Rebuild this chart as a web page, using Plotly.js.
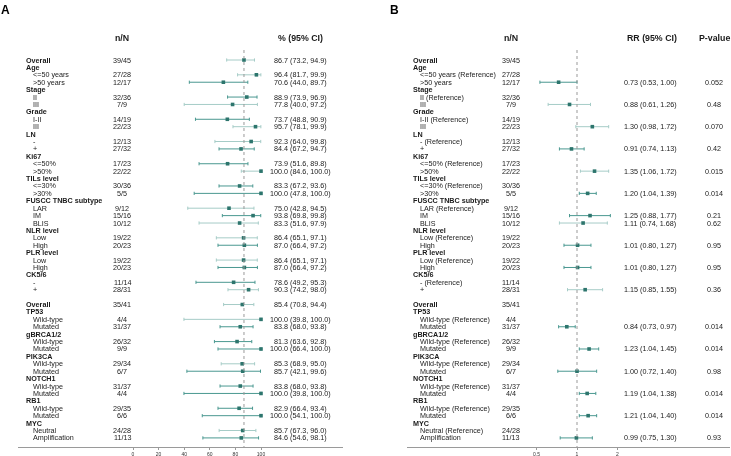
<!DOCTYPE html>
<html><head><meta charset="utf-8">
<script src="https://cdn.plot.ly/plotly-3.0.1.min.js"></script>
<style>html,body{margin:0;padding:0;background:#fff}#chart{width:731px;height:456px;will-change:transform}</style>
</head><body><div id="chart"></div>
<script>
// ---------- DATA ----------
const labelsA = ['Overall','Age','<=50 years','>50 years','Stage','II','III','Grade','I-II','III','LN','-','+','Ki67','<=50%','>50%','TILs level','<=30%','>30%','FUSCC TNBC subtype','LAR','IM','BLIS','NLR level','Low','High','PLR level','Low','High','CK5/6','-','+','','Overall','TP53','Wild-type','Mutated','gBRCA1/2','Wild-type','Mutated','PIK3CA','Wild-type','Mutated','NOTCH1','Wild-type','Mutated','RB1','Wild-type','Mutated','MYC','Neutral','Amplification'];
const labelsB = ['Overall','Age','<=50 years (Reference)','>50 years','Stage','II (Reference)','III','Grade','I-II (Reference)','III','LN','- (Reference)','+','Ki67','<=50% (Reference)','>50%','TILs level','<=30% (Reference)','>30%','FUSCC TNBC subtype','LAR (Reference)','IM','BLIS','NLR level','Low (Reference)','High','PLR level','Low (Reference)','High','CK5/6','- (Reference)','+','','Overall','TP53','Wild-type (Reference)','Mutated','gBRCA1/2','Wild-type (Reference)','Mutated','PIK3CA','Wild-type (Reference)','Mutated','NOTCH1','Wild-type (Reference)','Mutated','RB1','Wild-type (Reference)','Mutated','MYC','Neutral (Reference)','Amplification'];
// 0 = bold heading, 1 = indented sub-item, 2 = blank
const levels = [0,0,1,1,0,1,1,0,1,1,0,1,1,0,1,1,0,1,1,0,1,1,1,0,1,1,0,1,1,0,1,1,2,0,0,1,1,0,1,1,0,1,1,0,1,1,0,1,1,0,1,1];
const nN = ['39/45',null,'27/28','12/17',null,'32/36','7/9',null,'14/19','22/23',null,'12/13','27/32',null,'17/23','22/22',null,'30/36','5/5',null,'9/12','15/16','10/12',null,'19/22','20/23',null,'19/22','20/23',null,'11/14','28/31',null,'35/41',null,'4/4','31/37',null,'26/32','9/9',null,'29/34','6/7',null,'31/37','4/4',null,'29/35','6/6',null,'24/28','11/13'];
const pctEst = [86.7,null,96.4,70.6,null,88.9,77.8,null,73.7,95.7,null,92.3,84.4,null,73.9,100.0,null,83.3,100.0,null,75.0,93.8,83.3,null,86.4,87.0,null,86.4,87.0,null,78.6,90.3,null,85.4,null,100.0,83.8,null,81.3,100.0,null,85.3,85.7,null,83.8,100.0,null,82.9,100.0,null,85.7,84.6];
const pctLo  = [73.2,null,81.7,44.0,null,73.9,40.0,null,48.8,78.1,null,64.0,67.2,null,51.6,84.6,null,67.2,47.8,null,42.8,69.8,51.6,null,65.1,66.4,null,65.1,66.4,null,49.2,74.2,null,70.8,null,39.8,68.0,null,63.6,66.4,null,68.9,42.1,null,68.0,39.8,null,66.4,54.1,null,67.3,54.6];
const pctHi  = [94.9,null,99.9,89.7,null,96.9,97.2,null,90.9,99.9,null,99.8,94.7,null,89.8,100.0,null,93.6,100.0,null,94.5,99.8,97.9,null,97.1,97.2,null,97.1,97.2,null,95.3,98.0,null,94.4,null,100.0,93.8,null,92.8,100.0,null,95.0,99.6,null,93.8,100.0,null,93.4,100.0,null,96.0,98.1];
const rrEst = [null,null,null,0.73,null,null,0.88,null,null,1.30,null,null,0.91,null,null,1.35,null,null,1.20,null,null,1.25,1.11,null,null,1.01,null,null,1.01,null,null,1.15,null,null,null,null,0.84,null,null,1.23,null,null,1.00,null,null,1.19,null,null,1.21,null,null,0.99];
const rrLo  = [null,null,null,0.53,null,null,0.61,null,null,0.98,null,null,0.74,null,null,1.06,null,null,1.04,null,null,0.88,0.74,null,null,0.80,null,null,0.80,null,null,0.85,null,null,null,null,0.73,null,null,1.04,null,null,0.72,null,null,1.04,null,null,1.04,null,null,0.75];
const rrHi  = [null,null,null,1.00,null,null,1.26,null,null,1.72,null,null,1.13,null,null,1.72,null,null,1.39,null,null,1.77,1.68,null,null,1.27,null,null,1.27,null,null,1.55,null,null,null,null,0.97,null,null,1.45,null,null,1.40,null,null,1.38,null,null,1.40,null,null,1.30];
const pValues = [null,null,null,'0.052',null,null,'0.48',null,null,'0.070',null,null,'0.42',null,null,'0.015',null,null,'0.014',null,null,'0.21','0.62',null,null,'0.95',null,null,'0.95',null,null,'0.36',null,null,null,null,'0.014',null,null,'0.014',null,null,'0.98',null,null,'0.014',null,null,'0.014',null,null,'0.93'];
const ticksA = [0,20,40,60,80,100];
const ticksB = [0.5,1,2];

// ---------- STYLE ----------
const W = 731, H = 456;
const rowY0 = 60, rowH = 7.41, axisY = 447;
const toneA = ['L',0,'L','D',0,'D','L',0,'D','L',0,'L','D',0,'D','L',0,'D','D',0,'L','D','L',0,'L','D',0,'L','D',0,'D','L',0,'L',0,'L','D',0,'D','D',0,'L','D',0,'D','D',0,'D','D',0,'L','D'];
const toneB = toneA;
const DARK = '#4a9890', LIGHT = '#a6ccc7', MARK = '#2d756d';
const FONT = 'Liberation Sans, Arial, sans-serif';
const TXT = '#1a1a1a';

const rows = labelsA.map((_, i) => i);
const px = x => x / W;

function pick(arr, tones, tone) {
  return rows.filter(i => arr[i] != null && tones[i] === tone);
}
function ciTraces(est, lo, hi, tones, xaxis) {
  return ['L','D'].map(t => {
    const idx = pick(est, tones, t);
    return {
      type: 'scatter', mode: 'markers', xaxis: xaxis, yaxis: 'y',
      x: idx.map(i => est[i]), y: idx,
      marker: {symbol: 'square', size: 3.6, color: MARK},
      error_x: {type: 'data', symmetric: false,
        array: idx.map(i => hi[i] - est[i]), arrayminus: idx.map(i => est[i] - lo[i]),
        color: t === 'L' ? LIGHT : DARK, thickness: 1, width: 1.6},
      hoverinfo: 'skip', showlegend: false
    };
  });
}
const data = [...ciTraces(pctEst, pctLo, pctHi, toneA, 'x'), ...ciTraces(rrEst, rrLo, rrHi, toneB, 'x2')];

const ann = [];
function txt(text, xPix, row, opts) {
  ann.push(Object.assign({text: text, x: px(xPix), xref: 'paper', y: row, yref: 'y',
    showarrow: false, xanchor: 'center', yanchor: 'middle', borderpad: 0,
    font: {family: FONT, size: 7.2, color: TXT}}, opts || {}));
}
function labelCol(labels, xHead, xSub) {
  rows.forEach(i => {
    if (levels[i] === 2) return;
    const bold = levels[i] === 0;
    txt(bold ? '<b>' + labels[i] + '</b>' : labels[i], bold ? xHead : xSub, i, {xanchor: 'left'});
  });
}
labelCol(labelsA, 25, 31.5);
labelCol(labelsB, 412.5, 419);
rows.forEach(i => {
  if (nN[i]) { txt(nN[i], 122, i); txt(nN[i], 511, i); }
  if (pctEst[i] != null) txt(pctEst[i].toFixed(1) + ' (' + pctLo[i].toFixed(1) + ', ' + pctHi[i].toFixed(1) + ')', 300.5, i);
  if (rrEst[i] != null) txt(rrEst[i].toFixed(2) + ' (' + rrLo[i].toFixed(2) + ', ' + rrHi[i].toFixed(2) + ')', 650, i);
  if (pValues[i]) txt(pValues[i], 714, i);
});
const headRow = (38.3 - rowY0) / rowH;
const hf = {family: FONT, size: 8.8, color: TXT};
txt('<b>n/N</b>', 122, headRow, {font: hf});
txt('<b>% (95% CI)</b>', 300.5, headRow, {font: hf});
txt('<b>n/N</b>', 511, headRow, {font: hf});
txt('<b>RR (95% CI)</b>', 651.5, headRow, {font: hf});
txt('<b>P-value</b>', 714, headRow, {font: hf});
ann.push({text: '<b>A</b>', x: px(0), y: 1 - 2/ axisY, xref: 'paper', yref: 'paper', xanchor: 'left', yanchor: 'top', showarrow: false, borderpad: 0, font: {family: FONT, size: 12, color: '#000'}});
ann.push({text: '<b>B</b>', x: px(389), y: 1 - 2/ axisY, xref: 'paper', yref: 'paper', xanchor: 'left', yanchor: 'top', showarrow: false, borderpad: 0, font: {family: FONT, size: 12, color: '#000'}});

const dashTop = (50 - rowY0) / rowH;
const shapes = [
  {type: 'line', xref: 'x', yref: 'y', x0: pctEst[0], x1: pctEst[0], y0: dashTop, y1: (axisY - rowY0) / rowH, line: {color: '#999', width: 1, dash: 'dot'}},
  {type: 'line', xref: 'x2', yref: 'y', x0: 1, x1: 1, y0: dashTop, y1: (axisY - rowY0) / rowH, line: {color: '#999', width: 1, dash: 'dot'}}
];

// axis A: 0 -> 133px, 100 -> 261px ; axis B: 1 -> 577px, 134.5 px per decade
const aL = 18, aR = 343, a0 = 133, aS = 1.28;
const bL = 407, bR = 730, b1 = 577, bS = 134.5;
const axCommon = {showline: true, linecolor: '#9a9a9a', linewidth: 1, ticks: 'outside', ticklen: 2, tickwidth: 1,
  tickcolor: '#9a9a9a', tickfont: {family: FONT, size: 5, color: '#333'}, showgrid: false, zeroline: false,
  anchor: 'y', fixedrange: true, ticklabelstandoff: 0};
const layout = {
  width: W, height: H, margin: {l: 0, r: 0, t: 0, b: H - axisY, pad: 0},
  paper_bgcolor: '#fff', plot_bgcolor: '#fff', showlegend: false,
  xaxis: Object.assign({}, axCommon, {domain: [px(aL), px(aR)], range: [(aL - a0) / aS, (aR - a0) / aS], tickvals: ticksA, ticktext: ticksA.map(String)}),
  xaxis2: Object.assign({}, axCommon, {type: 'log', domain: [px(bL), px(bR)], range: [(bL - b1) / bS, (bR - b1) / bS], tickvals: ticksB, ticktext: ticksB.map(String)}),
  yaxis: {range: [(axisY - rowY0) / rowH, -rowY0 / rowH], visible: false, showgrid: false, zeroline: false, fixedrange: true},
  annotations: ann, shapes: shapes
};
Plotly.newPlot('chart', data, layout, {displayModeBar: false, staticPlot: true});
</script></body></html>
